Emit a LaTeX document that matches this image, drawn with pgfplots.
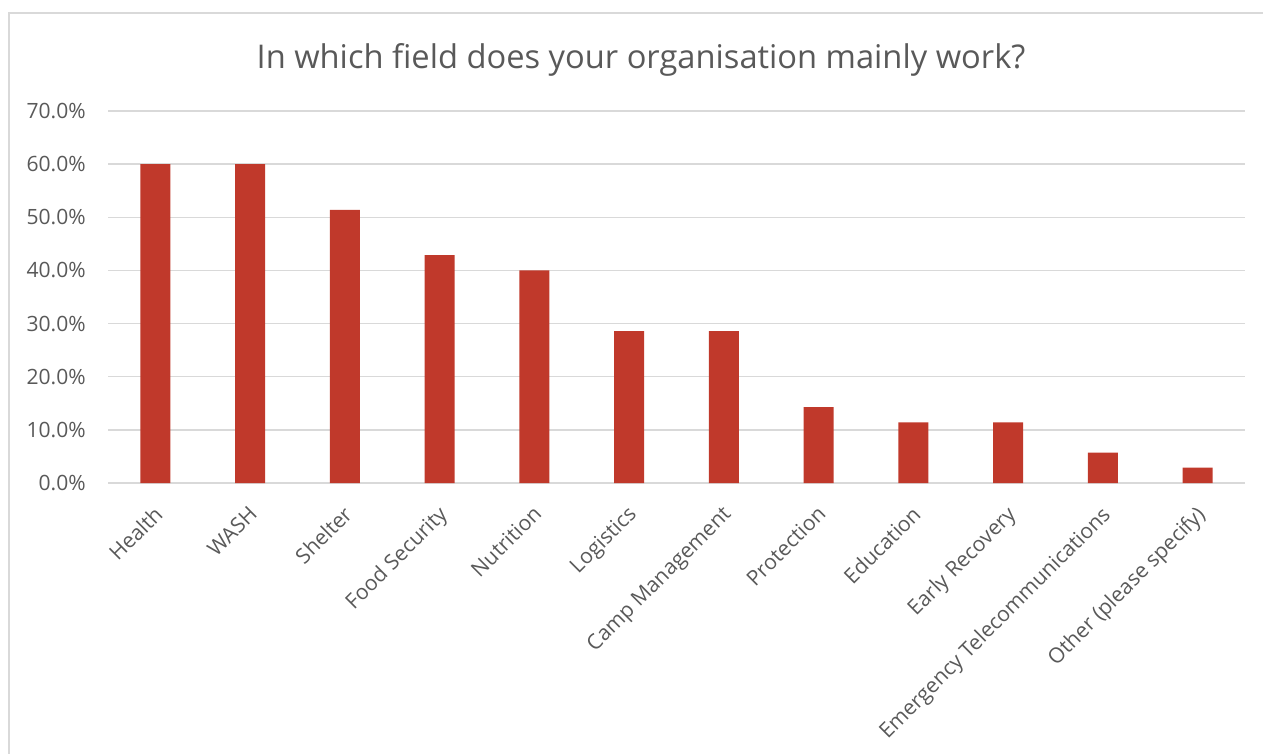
\documentclass[border=0pt]{standalone}
\usepackage{fontspec}
\setmainfont{Open Sans}
\usepackage{pgfplots}
\pgfplotsset{compat=1.18}
\definecolor{barred}{HTML}{C0392B}
\definecolor{txtgray}{HTML}{595959}
\definecolor{gridgray}{HTML}{D9D9D9}
\begin{document}
\begin{tikzpicture}[x=0.75pt,y=0.75pt]
\path[use as bounding box] (0,0) rectangle (1263,753);
\draw[gridgray,line width=1.5pt] (9,-5) -- (9,740) -- (1270,740);
\node[anchor=base,text=txtgray,font=\fontsize{24.5}{29}\selectfont,inner sep=0pt] at (641,684) {In which field does your organisation mainly work?};
\begin{axis}[
  at={(108pt*0.75,270pt*0.75)}, anchor=south west,
  scale only axis, width=852.75pt, height=279pt,
  xmin=-0.5, xmax=11.5, ymin=0, ymax=70,
  ytick={0,10,...,70},
  yticklabel={\pgfmathprintnumber[fixed,fixed zerofill,precision=1]{\tick}\%},
  /pgf/number format/assume math mode=true,
  xtick={0,...,11},
  xticklabels={Health,WASH,Shelter,Food Security,Nutrition,Logistics,Camp Management,Protection,Education,Early Recovery,Emergency Telecommunications,Other (please specify)},
  xticklabel style={xshift=-2pt,yshift=-16pt,rotate=45,anchor=north east,inner sep=0pt},
  yticklabel style={anchor=east,inner sep=0pt,xshift=-16.5pt},
  ticklabel style={text=txtgray,font=\fontsize{15.8}{18}\selectfont},
  major tick length=0pt,
  axis line style={draw=none},
  ymajorgrids, grid style={gridgray,line width=1.1pt},
  ybar, bar width=22.5pt,
  clip=false,
]
\addplot[fill=barred,draw=none] coordinates {
(0,60.0) (1,60.0) (2,51.4) (3,42.9) (4,40.0) (5,28.6) (6,28.6) (7,14.3) (8,11.4) (9,11.4) (10,5.7) (11,2.9)};
\end{axis}
\end{tikzpicture}
\end{document}
